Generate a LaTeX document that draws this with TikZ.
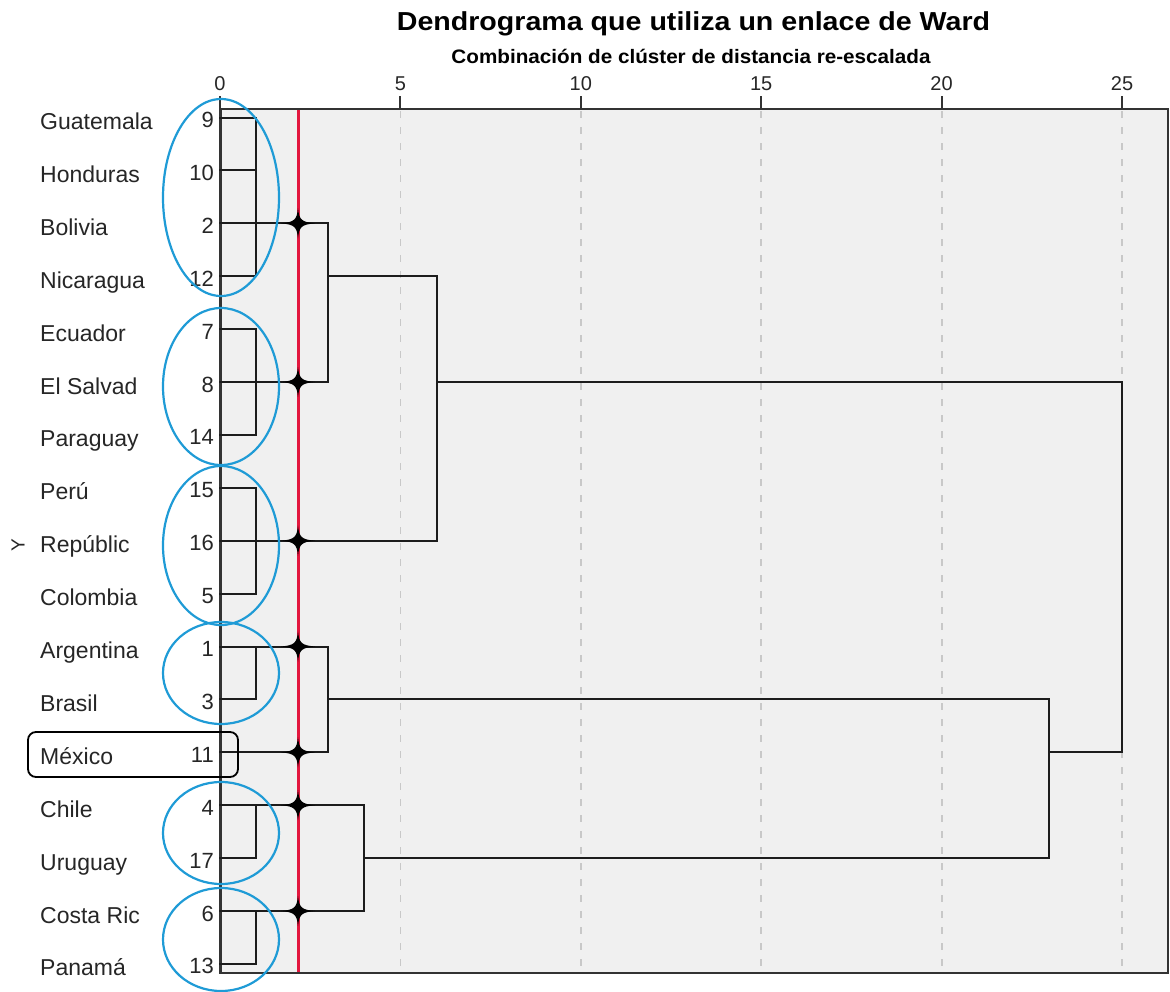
\documentclass[tikz,border=0pt]{standalone}
\usepackage{fontspec}
\setmainfont{Liberation Sans}
\usepackage{graphicx}
\definecolor{bgc}{HTML}{F0F0F0}
\definecolor{denc}{HTML}{1C1C1C}
\definecolor{redc}{HTML}{E3173E}
\definecolor{bluec}{HTML}{1F9BD6}
\definecolor{gridc}{HTML}{C8C8C8}
\definecolor{framec}{HTML}{333333}
\tikzset{
  den/.style={draw=denc, line width=2pt, line cap=rect},
  gridline/.style={draw=gridc, line width=1.8pt, dash pattern=on 7pt off 9pt},
  cutline/.style={draw=redc, line width=3pt},
  grp/.style={draw=bluec, line width=2.2pt},
  country/.style={anchor=base west, font=\fontsize{23}{27}\selectfont, text=black!85, inner sep=0pt},
  leafnum/.style={anchor=base east, font=\fontsize{22}{26}\selectfont, text=black!85, inner sep=0pt},
  ticklab/.style={anchor=base, font=\fontsize{20}{23}\selectfont, text=black!85, inner sep=0pt},
  starmark/.style={fill=black},
}
\begin{document}
\begin{tikzpicture}[x=1pt, y=-1pt]
\useasboundingbox (0,0) rectangle (1170,991);
% title
\node[anchor=base, inner sep=0pt] (title) at (693.5,30)
  {\scalebox{1.1}[1]{\fontsize{26}{30}\selectfont\bfseries Dendrograma que utiliza un enlace de Ward}};
\node[anchor=base, inner sep=0pt] (subtitle) at (691,63.5)
  {\scalebox{1.06}[1]{\fontsize{19.5}{23}\selectfont\bfseries Combinación de clúster de distancia re-escalada}};
% frame
\fill[bgc] (220,109) rectangle (1168,973);
\foreach \v in {5,10,15,20,25}
  \draw[gridline] ({220+36.08*\v},111) -- ({220+36.08*\v},971);
\draw[draw=framec, line width=2pt] (220,109) rectangle (1168,973);
\draw[draw=framec, line width=3pt] (220,109) -- (220,973);
% ticks
\foreach \v in {0,5,10,15,20,25} {
  \draw[draw=framec, line width=2pt] ({220+36.08*\v},96) -- ({220+36.08*\v},109);
  \node[ticklab] at ({220+36.08*\v},90) {\v};
}
% column coordinates
\coordinate (X1) at (256,0);
\coordinate (XR) at (298,0);
\coordinate (X3) at (328,0);
\coordinate (X4) at (364,0);
\coordinate (X6) at (437,0);
\coordinate (X23) at (1049,0);
\coordinate (X25) at (1122,0);
% leaves
\foreach \nm/\num [count=\i from 0] in {Guatemala/9, Honduras/10, Bolivia/2, Nicaragua/12, Ecuador/7, El Salvad/8, Paraguay/14, Perú/15, Repúblic/16, Colombia/5, Argentina/1, Brasil/3, México/11, Chile/4, Uruguay/17, Costa Ric/6, Panamá/13} {
  \coordinate (L\i) at (220,{117.5+52.9*\i});
  \node[country] (name\i) at (40,{117.5+52.9*\i+12}) {\nm};
  \node[leafnum] (num\i) at (214,{117.5+52.9*\i+10}) {\num};
}
\node[rotate=90, font=\fontsize{19}{22}\selectfont, text=black!85] (ylab) at (18,545) {Y};
% dendrogram
\draw[den] (L0) -- (L0-|X1) (L1) -- (L1-|X1) (L3) -- (L3-|X1) (L0-|X1) -- (L3-|X1) (L2) -- (L2-|X3);
\draw[den] (L4) -- (L4-|X1) (L6) -- (L6-|X1) (L4-|X1) -- (L6-|X1) (L5) -- (L5-|X3);
\draw[den] (L2-|X3) -- (L5-|X3) (L3-|X3) -- (L3-|X6);
\draw[den] (L7) -- (L7-|X1) (L9) -- (L9-|X1) (L7-|X1) -- (L9-|X1) (L8) -- (L8-|X6);
\draw[den] (L3-|X6) -- (L8-|X6) (L5-|X6) -- (L5-|X25);
\draw[den] (L11) -- (L11-|X1) (L10-|X1) -- (L11-|X1) (L10) -- (L10-|X3);
\draw[den] (L12) -- (L12-|X3);
\draw[den] (L10-|X3) -- (L12-|X3) (L11-|X3) -- (L11-|X23);
\draw[den] (L14) -- (L14-|X1) (L13-|X1) -- (L14-|X1) (L13) -- (L13-|X4);
\draw[den] (L16) -- (L16-|X1) (L15-|X1) -- (L16-|X1) (L15) -- (L15-|X4);
\draw[den] (L13-|X4) -- (L15-|X4) (L14-|X4) -- (L14-|X23);
\draw[den] (L11-|X23) -- (L14-|X23) (L12-|X23) -- (L12-|X25);
\draw[den] (L5-|X25) -- (L12-|X25);
% cut line
\draw[cutline] (298,110) -- (298,972);
% stars
\foreach \i in {2,5,8,10,12,13,15} {
  \begin{scope}[shift={(L\i-|XR)}]
    \fill[starmark] (17,0) .. controls (3.5,1.2) and (1.2,3.5) .. (0,15)
      .. controls (-1.2,3.5) and (-3.5,1.2) .. (-17,0)
      .. controls (-3.5,-1.2) and (-1.2,-3.5) .. (0,-15)
      .. controls (1.2,-3.5) and (3.5,-1.2) .. (17,0) -- cycle;
  \end{scope}
}
% groups
\draw[grp] (221,197.5) ellipse [x radius=58, y radius=98.5];
\draw[grp] (221,386.5) ellipse [x radius=58, y radius=78.5];
\draw[grp] (221,545.5) ellipse [x radius=58, y radius=79.5];
\draw[grp] (221,673) ellipse [x radius=58, y radius=51];
\draw[grp] (221,833) ellipse [x radius=58, y radius=51];
\draw[grp] (221,939.5) ellipse [x radius=58, y radius=51.5];
\draw[line width=1.8pt, rounded corners=8pt] (28,732) rectangle (238,777);
\end{tikzpicture}
\end{document}
